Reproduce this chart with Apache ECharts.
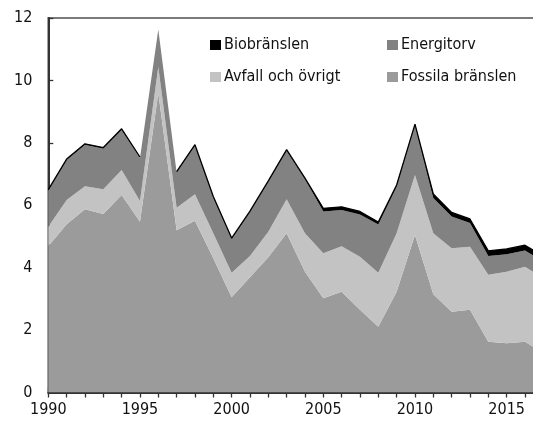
<!DOCTYPE html>
<html>
<head>
<meta charset="utf-8">
<script src="https://cdn.jsdelivr.net/npm/echarts@6/dist/echarts.min.js"></script>
<style>
  html, body { margin: 0; padding: 0; background: #fff; overflow: hidden; }
  /* 2017 sits just past the visible right edge, so the canvas is a bit wider than the page */
  #chart { width: 544px; height: 428px; }
</style>
</head>
<body>
<div id="chart"></div>
<script>
// Årtal och värden (TWh) per bränsleslag
const years = ['1990', '1991', '1992', '1993', '1994', '1995', '1996', '1997', '1998', '1999',
               '2000', '2001', '2002', '2003', '2004', '2005', '2006', '2007', '2008', '2009',
               '2010', '2011', '2012', '2013', '2014', '2015', '2016', '2017'];
const fossila = [4.69, 5.39, 5.87, 5.72, 6.33, 5.47, 9.60, 5.20, 5.50, 4.30,
                 3.05, 3.69, 4.33, 5.10, 3.87, 3.02, 3.23, 2.65, 2.11, 3.23,
                 5.05, 3.15, 2.59, 2.65, 1.63, 1.58, 1.63, 1.27];
const avfall = [0.62, 0.78, 0.74, 0.79, 0.80, 0.67, 0.83, 0.72, 0.85, 0.80,
                0.79, 0.68, 0.82, 1.09, 1.23, 1.44, 1.46, 1.70, 1.73, 1.87,
                1.92, 1.95, 2.03, 2.02, 2.14, 2.29, 2.40, 2.40];
const energitorv = [1.16, 1.28, 1.33, 1.31, 1.29, 1.37, 1.20, 1.13, 1.56, 1.15,
                    1.08, 1.41, 1.60, 1.56, 1.74, 1.34, 1.16, 1.35, 1.54, 1.50,
                    1.59, 1.13, 1.02, 0.76, 0.60, 0.56, 0.52, 0.53];
const bio = [0.03, 0.03, 0.03, 0.03, 0.03, 0.03, '-', 0.03, 0.03, 0.03,
             0.03, 0.03, 0.03, 0.03, 0.03, 0.10, 0.10, 0.10, 0.08, 0.05,
             0.04, 0.13, 0.13, 0.13, 0.17, 0.17, 0.17, 0.17];
const labelStep = 5;

const FONT = "'DejaVu Sans Condensed', 'DejaVu Sans', sans-serif";
const FS = 16;

function areaSeries(name, data, color, line) {
  return {
    name: name,
    type: 'line',
    stack: 'total',
    data: data,
    symbol: 'none',
    showSymbol: false,
    smooth: false,
    itemStyle: { color: color },
    lineStyle: line ? { color: '#000', width: 1.3 } : { width: 0 },
    areaStyle: { color: color, opacity: 1 },
    emphasis: { disabled: true },
    z: 2
  };
}

function legendAt(name, left, top) {
  return {
    data: [name],
    left: left,
    top: top,
    icon: 'rect',
    itemWidth: 11,
    itemHeight: 10,
    padding: 0,
    textStyle: { fontFamily: FONT, fontSize: FS, color: '#111', padding: [0, 0, 0, -2] },
    selectedMode: false
  };
}

const chart = echarts.init(document.getElementById('chart'), null, { renderer: 'canvas' });

const baseAxis = {
  type: 'category',
  data: years,
  boundaryGap: false,
  splitLine: { show: false }
};

chart.setOption({
  animation: false,
  backgroundColor: '#fff',
  grid: {
    left: 48.3, right: 0.7, top: 18, bottom: 35.5,
    show: true, borderColor: '#7a7a7a', borderWidth: 2, backgroundColor: 'transparent'
  },
  legend: [
    legendAt('Biobränslen', 210, 37),
    legendAt('Energitorv', 387, 37),
    legendAt('Avfall och övrigt', 210, 69),
    legendAt('Fossila bränslen', 387, 69)
  ],
  xAxis: [
    Object.assign({}, baseAxis, {
      position: 'bottom',
      axisLine: { show: true, onZero: false, lineStyle: { color: '#333', width: 2 } },
      axisTick: { show: true, inside: false, length: 5, interval: 0,
                  lineStyle: { color: '#333', width: 1.3 } },
      axisLabel: { show: true, margin: 9, fontFamily: FONT, fontSize: FS, color: '#111',
                   interval: (i, v) => Number(v) % labelStep === 0 }
    }),
    Object.assign({}, baseAxis, {
      position: 'bottom',
      axisLine: { show: false, onZero: false },
      axisTick: { show: true, inside: true, length: 5, interval: 0,
                  lineStyle: { color: '#333', width: 1.3 } },
      axisLabel: { show: false }
    })
  ],
  yAxis: {
    type: 'value',
    min: 0,
    max: 12,
    interval: 2,
    splitLine: { show: false },
    axisLine: { show: true, onZero: false, lineStyle: { color: '#333', width: 2 } },
    axisTick: { show: true, inside: true, length: 5, lineStyle: { color: '#333', width: 1.3 } },
    axisLabel: { margin: 16, fontFamily: FONT, fontSize: FS, color: '#111' }
  },
  series: [
    areaSeries('Fossila bränslen', fossila, '#9b9b9b', false),
    areaSeries('Avfall och övrigt', avfall, '#c3c3c3', false),
    areaSeries('Energitorv', energitorv, '#828282', false),
    areaSeries('Biobränslen', bio, '#000000', true)
  ]
});
</script>
</body>
</html>
